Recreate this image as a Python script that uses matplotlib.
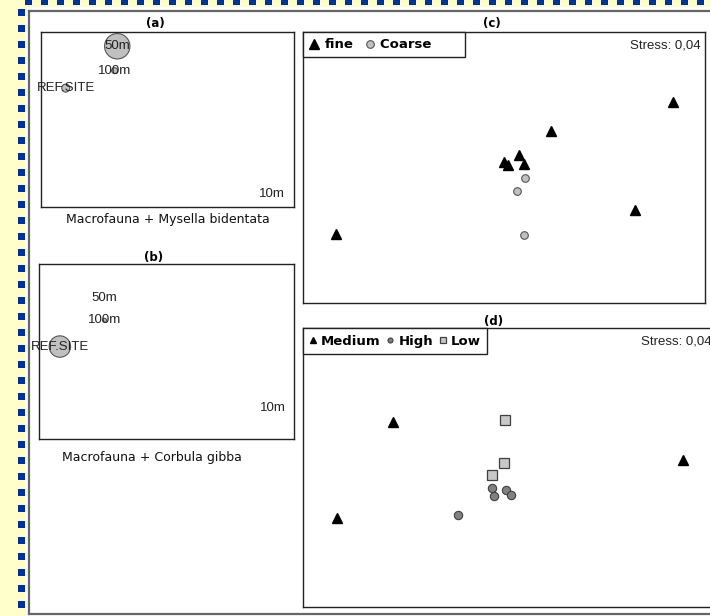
import numpy as np
import matplotlib.pyplot as plt
from matplotlib.patches import Rectangle
from matplotlib.lines import Line2D

W, H = 710, 616

# %%
# bubble plots (a) and (b): site labels, MDS positions, species abundance (bubble radius)
a_labels = ['50m', '100m', 'REF.SITE', '10m']
a_x = [-0.58, -0.61, -1.17, 1.19]
a_y = [0.84, 0.56, 0.36, -0.85]
a_abund = [12.7, 3.0, 4.0, 0.0]

b_labels = ['50m', '100m', 'REF.SITE', '10m']
b_x = [-0.71, -0.71, -1.22, 1.21]
b_y = [0.62, 0.36, 0.06, -0.64]
b_abund = [0.0, 2.0, 10.7, 0.0]

# %%
# MDS (c): sediment type
c_fine_x = [1.68, 0.47, 0.00, 0.04, 0.15, 0.20, 1.30, -1.67]
c_fine_y = [0.65, 0.36, 0.05, 0.02, 0.12, 0.03, -0.42, -0.66]
c_coarse_x = [0.21, 0.13, 0.20]
c_coarse_y = [-0.10, -0.23, -0.67]

# MDS (d): organic load
d_med_x = [-1.10, -1.66, 1.78]
d_med_y = [0.45, -0.50, 0.07]
d_high_x = [-0.12, -0.10, 0.02, 0.07, -0.45]
d_high_y = [-0.20, -0.28, -0.22, -0.27, -0.47]
d_low_x = [0.01, 0.00, -0.12]
d_low_y = [0.47, 0.04, -0.07]

stress = '0,04'


# %%
def box(x0, y0, x1, y1):
    # pixel box (top-left origin) -> figure fraction rect
    return [x0 / W, 1 - y1 / H, (x1 - x0) / W, (y1 - y0) / H]


def fx(x):
    return x / W


def fy(y):
    return 1 - y / H


def clean(ax):
    ax.set_xticks([])
    ax.set_yticks([])
    for s in ax.spines.values():
        s.set_color('#222222')
        s.set_linewidth(1.0)


fig = plt.figure(figsize=(W / 100, H / 100), dpi=100)
fig.patch.set_facecolor('#FFFFCC')

# page background, frame and dotted border (behind the axes)
fig.patches.append(Rectangle((fx(26), 0), 1, fy(7), transform=fig.transFigure,
                             facecolor='white', edgecolor='none', zorder=-3))
for yy in range(9, H, 16):
    fig.patches.append(Rectangle((fx(18), fy(yy + 7)), 7 / W, 7 / H,
                                 transform=fig.transFigure, facecolor='#003399',
                                 edgecolor='none', zorder=-2))
for xx in range(25, W, 16):
    fig.patches.append(Rectangle((fx(xx), fy(5)), 7 / W, 7 / H,
                                 transform=fig.transFigure, facecolor='#003399',
                                 edgecolor='none', zorder=-2))
frame_kw = dict(transform=fig.transFigure, color='#666666', lw=1.6, zorder=-1)
fig.lines.append(Line2D([fx(29), fx(29)], [fy(10.5), fy(614)], **frame_kw))
fig.lines.append(Line2D([fx(29), 1], [fy(10.5), fy(10.5)], **frame_kw))
fig.lines.append(Line2D([fx(29), 1], [fy(614), fy(614)], **frame_kw))

title_kw = dict(ha='center', va='center', fontsize=8.5, fontweight='bold',
                family='DejaVu Sans', color='black')
label_kw = dict(ha='center', va='center', fontsize=9.5, family='Liberation Sans',
                color='#222222', zorder=4)
bubble_kw = dict(facecolor='#C0C0C0', edgecolor='#555555', linewidths=0.8, zorder=3)

# %%
# (a)
ax_a = fig.add_axes(box(41.3, 32.3, 294.5, 206.7))
ax_a.scatter(a_x, a_y, s=[(1.44 * r) ** 2 for r in a_abund], **bubble_kw)
for lab, x, y in zip(a_labels, a_x, a_y):
    ax_a.text(x, y, lab, **label_kw)
ax_a.set_xlim(-1.45, 1.45)
ax_a.set_ylim(-1, 1)
clean(ax_a)
fig.text(fx(155), fy(23), '(a)', **title_kw)
fig.text(fx(168), fy(219), 'Macrofauna + Mysella bidentata', ha='center', va='center',
         fontsize=9, family='DejaVu Sans', color='#111111')

# (b)
ax_b = fig.add_axes(box(39.3, 264.3, 294, 439.3))
ax_b.scatter(b_x, b_y, s=[(1.44 * r) ** 2 for r in b_abund], **bubble_kw)
for lab, x, y in zip(b_labels, b_x, b_y):
    ax_b.text(x, y, lab, **label_kw)
ax_b.set_xlim(-1.455, 1.455)
ax_b.set_ylim(-1, 1)
clean(ax_b)
fig.text(fx(154), fy(257.5), '(b)', **title_kw)
fig.text(fx(152), fy(457), 'Macrofauna + Corbula gibba', ha='center', va='center',
         fontsize=9, family='DejaVu Sans', color='#111111')

# %%
# (c)
ax_c = fig.add_axes(box(302.5, 32.3, 705, 302.7))
h1, = ax_c.plot(c_fine_x, c_fine_y, '^', color='black', ms=7.5, mec='black', ls='none')
h2, = ax_c.plot(c_coarse_x, c_coarse_y, 'o', mfc='#C0C0C0', mec='#555555', mew=0.8,
                ms=5.5, ls='none')
ax_c.set_xlim(-2, 2)
ax_c.set_ylim(-1.35, 1.35)
clean(ax_c)
leg = ax_c.legend([h1, h2], ['fine', 'Coarse      '], loc='upper left', ncol=2,
                  fancybox=False, edgecolor='#222222', framealpha=1, borderaxespad=0,
                  handlelength=0.9, handletextpad=0.3, columnspacing=0.8,
                  borderpad=0.45, prop=dict(family='DejaVu Sans', weight='bold', size=9.5))
leg.get_frame().set_linewidth(1.0)
ax_c.text(0.99, 0.975, 'Stress: ' + stress, transform=ax_c.transAxes, ha='right', va='top',
          fontsize=9.5, family='Liberation Sans', color='#222222')
fig.text(fx(492), fy(23), '(c)', **title_kw)

# (d)
ax_d = fig.add_axes(box(302.5, 328.3, 716, 606.7))
m1, = ax_d.plot(d_med_x, d_med_y, '^', color='black', ms=7.5, ls='none')
m2, = ax_d.plot(d_high_x, d_high_y, 'o', mfc='#808080', mec='#404040', mew=0.8,
                ms=6, ls='none')
m3, = ax_d.plot(d_low_x, d_low_y, 's', mfc='#C8C8C8', mec='#404040', mew=0.9,
                ms=6.5, ls='none')
ax_d.set_xlim(-2, 2.11)
ax_d.set_ylim(-1.39, 1.39)
clean(ax_d)
leg = ax_d.legend([m1, m2, m3], ['Medium', 'High', 'Low'], loc='upper left', ncol=3,
                  fancybox=False, edgecolor='#222222', framealpha=1, borderaxespad=0,
                  handlelength=0.6, handletextpad=0.3, columnspacing=0.45, markerscale=0.6,
                  borderpad=0.5, prop=dict(family='DejaVu Sans', weight='bold', size=9.5))
leg.get_frame().set_linewidth(1.0)
ax_d.text(0.99, 0.975, 'Stress: ' + stress, transform=ax_d.transAxes, ha='right', va='top',
          fontsize=9.5, family='Liberation Sans', color='#222222')
fig.text(fx(494), fy(321.5), '(d)', **title_kw)

plt.savefig('out.png', dpi=100, facecolor=fig.get_facecolor())
